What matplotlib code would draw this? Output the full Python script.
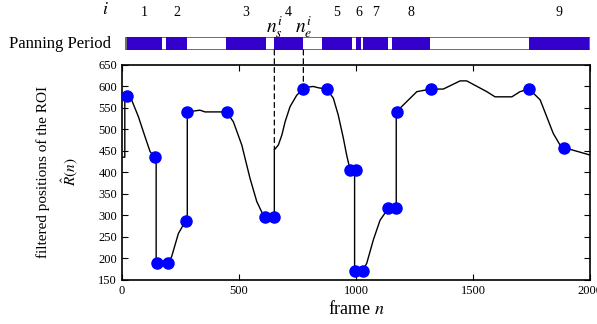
import matplotlib
matplotlib.use("Agg")
import matplotlib.pyplot as plt
from matplotlib.patches import ConnectionPatch, Rectangle

plt.rcParams['font.family'] = ['Liberation Serif', 'DejaVu Serif']
plt.rcParams['mathtext.fontset'] = 'stix'

# Panning periods (start frame, end frame)
period_starts = [21, 188, 444, 650, 855, 1000, 1030, 1154, 1739]
period_ends = [171, 278, 615, 774, 983, 1021, 1137, 1316, 1996]
period_labels = ['1', '2', '3', '4', '5', '6', '7', '8', '9']

# Filtered ROI position curve
curve_frames = [0, 12, 12, 20, 41, 70, 98, 120, 140, 146, 146, 195, 212, 241, 272, 279, 279,
                333, 355, 447, 476, 512, 547, 576, 597, 611, 651, 651, 668, 683, 697, 718,
                747, 775, 800, 818, 839, 875, 903, 924, 946, 960, 975, 994, 994, 1029, 1046,
                1074, 1103, 1138, 1172, 1172, 1217, 1260, 1319, 1373, 1445, 1473, 1559, 1594,
                1666, 1701, 1740, 1787, 1815, 1843, 1872, 1890, 2000]
curve_values = [435, 435, 578, 578, 568, 529, 483, 448, 435, 435, 189, 189, 204, 258, 287, 287, 540,
                544, 540, 540, 517, 463, 386, 332, 308, 297, 297, 452, 463, 486, 517, 552,
                579, 593, 598, 599, 596, 593, 572, 533, 479, 440, 405, 405, 171, 171, 189,
                243, 289, 316, 316, 540, 564, 587, 593, 593, 612, 612, 587, 575,
                575, 587, 593, 568, 529, 490, 463, 457, 440]

# Marked points
dot_frames = [20, 141, 151, 195, 272, 279, 449, 611, 651, 775, 875, 975, 999, 996, 1029,
              1138, 1170, 1174, 1319, 1740, 1890]
dot_values = [578, 435, 189, 189, 287, 540, 540, 297, 297, 593, 593, 405, 405, 171, 171,
              316, 316, 540, 593, 593, 457]

# Example period boundaries n_s^i, n_e^i
ns_frame, ns_value = 651, 452
ne_frame, ne_value = 775, 593

W, H = 597, 324
fig = plt.figure(figsize=(W / 100, H / 100), dpi=100)

L, R = 122 / W, 590 / W
ax = fig.add_axes([L, 1 - 280 / H, R - L, (280 - 64.5) / H])
bx = fig.add_axes([L, 1 - 50 / H, R - L, 13 / H])

ax.plot(curve_frames, curve_values, color='black', lw=1.0, zorder=2)
ax.plot(dot_frames, dot_values, 'o', color='#0000ff', ms=8, zorder=3)
ax.set_xlim(0, 2000)
ax.set_ylim(150, 650)
ax.set_xticks([0, 500, 1000, 1500, 2000])
ax.set_yticks(range(150, 651, 50))
ax.tick_params(direction='in', top=True, right=True, labelsize=9, length=4, width=0.8)
for s in ax.spines.values():
    s.set_linewidth(1.2)
ax.set_xlabel('frame $n$', fontsize=13, labelpad=2)

fig.text(43 / W, 1 - 172 / H, 'filtered positions of the ROI', rotation=90,
         ha='center', va='center', fontsize=11)
fig.text(70 / W, 1 - 172 / H, r'$\hat{R}(n)$', rotation=90,
         ha='center', va='center', fontsize=11)

# Panning bar
bx.set_xlim(0, 2000)
bx.set_ylim(0, 1)
bx.axis('off')
bx.add_patch(Rectangle((period_starts[0] - 4, 0), 2000 - period_starts[0] + 4, 1,
                       facecolor='white', edgecolor='#555555', lw=1.2))
bx.broken_barh([(s, e - s) for s, e in zip(period_starts, period_ends)], (0, 1),
               facecolors='#3300cc', edgecolor='none')
for s, e, lab in zip(period_starts, period_ends, period_labels):
    bx.text((s + e) / 2, 1 + 25 / 13, lab, ha='center', va='center', fontsize=10)
fig.text(105 / W, 1 - 10 / H, '$i$', ha='center', va='center', fontsize=13)
fig.text(60 / W, 1 - 44 / H, 'Panning Period', ha='center', va='center', fontsize=12)

fig.text(L + ns_frame / 2000 * (R - L), 1 - 27 / H, r'$n_s^i$', ha='center', va='center', fontsize=14)
fig.text(L + ne_frame / 2000 * (R - L), 1 - 27 / H, r'$n_e^i$', ha='center', va='center', fontsize=14)

for fx, fv in [(ns_frame, ns_value), (ne_frame, ne_value)]:
    cp = ConnectionPatch(xyA=(fx, 0), coordsA=bx.transData, xyB=(fx, fv), coordsB=ax.transData,
                         linestyle=(0, (4, 3)), color='black', lw=0.9)
    fig.add_artist(cp)

fig.savefig('out.png', dpi=100)
